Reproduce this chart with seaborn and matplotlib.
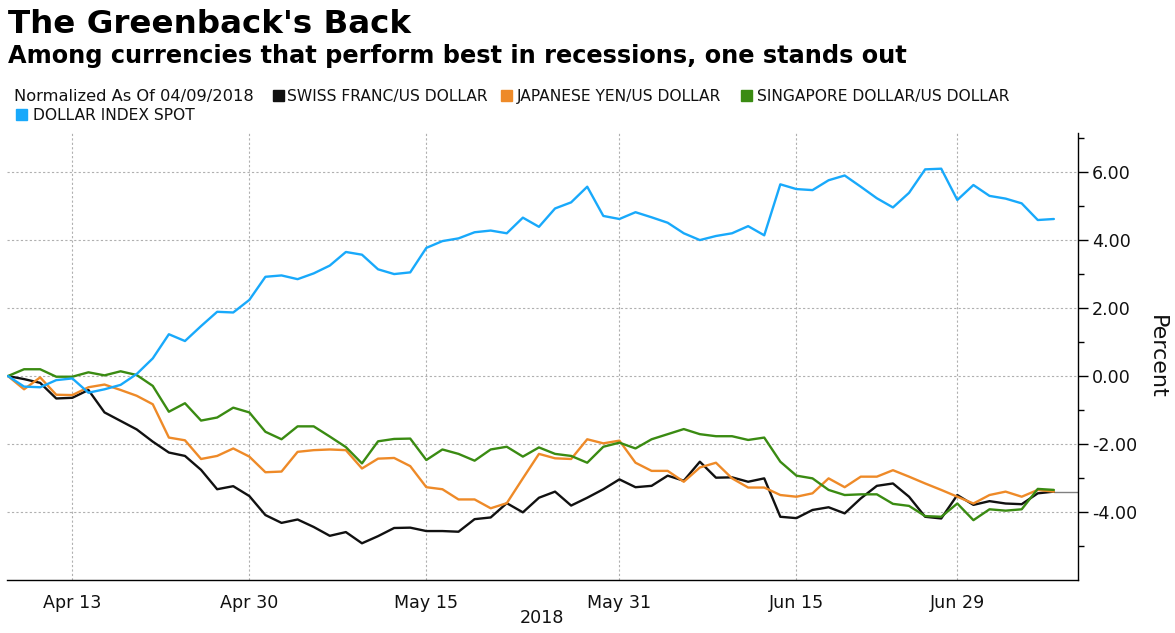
import numpy as np
import pandas as pd
import matplotlib
matplotlib.use("Agg")
import matplotlib.pyplot as plt
import seaborn as sns
from matplotlib.patches import Rectangle
from matplotlib.ticker import FixedLocator, FormatStrFormatter

# ---------------- data ----------------
dates = pd.bdate_range("2018-04-09", periods=66)
series_names = ["SWISS FRANC/US DOLLAR", "JAPANESE YEN/US DOLLAR",
                "SINGAPORE DOLLAR/US DOLLAR", "DOLLAR INDEX SPOT"]
swiss = [0, -0.09, -0.20, -0.66, -0.64, -0.41, -1.07, -1.32, -1.57, -1.93,
         -2.25, -2.35, -2.76, -3.33, -3.24, -3.53, -4.09, -4.32, -4.22, -4.44,
         -4.70, -4.59, -4.92, -4.71, -4.47, -4.46, -4.56, -4.56, -4.58, -4.21,
         -4.16, -3.74, -4.01, -3.58, -3.40, -3.81, -3.58, -3.33, -3.04, -3.27,
         -3.23, -2.93, -3.08, -2.52, -2.99, -2.98, -3.11, -3.01, -4.14, -4.18,
         -3.94, -3.86, -4.04, -3.60, -3.23, -3.16, -3.55, -4.14, -4.19, -3.50,
         -3.79, -3.68, -3.75, -3.77, -3.45, -3.40]
yen = [0, -0.39, -0.04, -0.55, -0.56, -0.33, -0.25, -0.41, -0.58, -0.83,
       -1.81, -1.89, -2.44, -2.35, -2.13, -2.37, -2.83, -2.81, -2.23, -2.18,
       -2.16, -2.18, -2.72, -2.43, -2.41, -2.65, -3.27, -3.33, -3.63, -3.63,
       -3.89, -3.74, -3.01, -2.29, -2.42, -2.44, -1.86, -1.98, -1.90, -2.55,
       -2.79, -2.79, -3.11, -2.69, -2.55, -3.01, -3.28, -3.28, -3.50, -3.55,
       -3.45, -3.01, -3.27, -2.96, -2.96, -2.77, -2.96, -3.16, -3.35, -3.55,
       -3.75, -3.50, -3.40, -3.55, -3.35, -3.40]
sgd = [0, 0.20, 0.20, -0.02, -0.02, 0.11, 0.02, 0.14, 0.03, -0.29,
       -1.05, -0.80, -1.31, -1.22, -0.93, -1.07, -1.64, -1.86, -1.48, -1.48,
       -1.78, -2.09, -2.57, -1.92, -1.85, -1.84, -2.47, -2.16, -2.29, -2.49,
       -2.16, -2.08, -2.37, -2.10, -2.29, -2.35, -2.55, -2.08, -1.96, -2.13,
       -1.86, -1.71, -1.56, -1.71, -1.77, -1.77, -1.88, -1.81, -2.52, -2.93,
       -3.01, -3.35, -3.50, -3.48, -3.48, -3.76, -3.82, -4.12, -4.14, -3.75,
       -4.24, -3.92, -3.96, -3.92, -3.32, -3.35]
dxy = [0, -0.31, -0.33, -0.12, -0.07, -0.49, -0.39, -0.26, 0.06, 0.52,
       1.23, 1.03, 1.47, 1.89, 1.87, 2.24, 2.92, 2.96, 2.85, 3.02,
       3.25, 3.65, 3.57, 3.14, 3.00, 3.05, 3.77, 3.97, 4.05, 4.23,
       4.28, 4.20, 4.66, 4.39, 4.93, 5.11, 5.57, 4.71, 4.62, 4.82,
       4.67, 4.51, 4.20, 4.00, 4.12, 4.20, 4.41, 4.14, 5.64, 5.50,
       5.47, 5.76, 5.90, 5.57, 5.23, 4.96, 5.39, 6.08, 6.10, 5.18,
       5.62, 5.30, 5.22, 5.08, 4.59, 4.62]
x_tick_labels = ["Apr 13", "Apr 30", "May 15", "May 31", "Jun 15", "Jun 29"]
x_tick_dates = ["2018-04-13", "2018-04-30", "2018-05-15", "2018-05-31",
                "2018-06-15", "2018-06-29"]
x_minor_dates = ["2018-04-20", "2018-05-08", "2018-05-23", "2018-06-08",
                 "2018-06-22", "2018-07-09"]
y_major = [-4, -2, 0, 2, 4, 6]
y_minor = [-5, -3, -1, 1, 3, 5, 7]
colors = ["#111111", "#EE8A28", "#3A8B12", "#18A9FB"]
note = "Normalized As Of 04/09/2018"
title = "The Greenback's Back"
subtitle = "Among currencies that perform best in recessions, one stands out"

# ---------------- figure ----------------
W, H = 1175, 633
sns.set_style("white")
plt.rcParams['font.family'] = ['DejaVu Sans']
plt.rcParams['axes.unicode_minus'] = False

fig = plt.figure(figsize=(W / 100, H / 100), dpi=100)
ax = fig.add_axes([7 / W, 1 - 580 / H, (1078 - 7) / W, (580 - 133) / H])

pos = np.arange(len(dates))
long = pd.concat([pd.DataFrame({"pos": pos, "value": vals, "series": name})
                  for name, vals in zip(series_names, [swiss, yen, sgd, dxy])],
                 ignore_index=True)
sns.lineplot(data=long, x="pos", y="value", hue="series",
             hue_order=series_names, palette=dict(zip(series_names, colors)),
             linewidth=1.7, legend=False, ax=ax, estimator=None, sort=False)

xmax = 66.5
ax.set_xlim(-0.06, xmax)
ax.set_ylim(-6, 7.15)

# last value line
ax.plot([pos[-1], xmax], [swiss[-1], swiss[-1]], color="#808080", lw=1.0,
        zorder=1)

# ticks
major_pos = dates.get_indexer(pd.to_datetime(x_tick_dates))
minor_pos = dates.get_indexer(pd.to_datetime(x_minor_dates))
ax.xaxis.set_major_locator(FixedLocator(major_pos))
ax.set_xticklabels(x_tick_labels)
ax.xaxis.set_minor_locator(FixedLocator(minor_pos))
ax.yaxis.tick_right()
ax.yaxis.set_major_locator(FixedLocator(y_major))
ax.yaxis.set_minor_locator(FixedLocator(y_minor))
ax.yaxis.set_major_formatter(FormatStrFormatter('%.2f'))
ax.tick_params(axis='both', which='major', direction='out', length=7,
               width=1, color='black', labelsize=12.6, pad=3,
               labelcolor='#111111')
ax.tick_params(axis='both', which='minor', direction='out', length=4,
               width=1, color='black')
ax.set_xlabel("")
ax.set_ylabel("")

for s in ["left", "top"]:
    ax.spines[s].set_visible(False)
for s in ["right", "bottom"]:
    ax.spines[s].set_visible(True)
    ax.spines[s].set_color("black")
    ax.spines[s].set_linewidth(1.0)

ax.grid(True, which='major', axis='both', color='#b0b0b0',
        linestyle=(0, (2, 2)), linewidth=0.8)
ax.set_axisbelow(True)

# axis labels
fig.text(542 / W, 1 - 618 / H, "2018", ha='center', va='center',
         fontsize=12.6, color='#111111')
fig.text(1157 / W, 1 - 357 / H, "Percent", ha='center', va='center',
         rotation=270, fontsize=16, color='#111111')

# titles
fig.text(8 / W, 1 - 33 / H, title, fontsize=23.4, weight='bold',
         va='baseline', ha='left', color='black')
fig.text(8 / W, 1 - 63 / H, subtitle, fontsize=17.3, weight='bold',
         va='baseline', ha='left', color='black')

# legend (manual, Bloomberg style)
fs_leg = 11.2
cap = 11.5


def px(x, y):
    return x / W, 1 - y / H


fig.text(*px(14, 101), note, fontsize=11.7, va='baseline', ha='left',
         color='#111111')
leg_items = [(273, 287, 101), (501, 517, 101), (741, 757, 101), (16, 33, 120)]
for (sx, tx, base), name, c in zip(leg_items, series_names, colors):
    fig.patches.append(Rectangle(px(sx, base), 11 / W, cap / H,
                                 transform=fig.transFigure, color=c))
    fig.text(*px(tx, base), name, fontsize=fs_leg, va='baseline', ha='left',
             color='#111111')

fig.savefig("out.png", dpi=100)
